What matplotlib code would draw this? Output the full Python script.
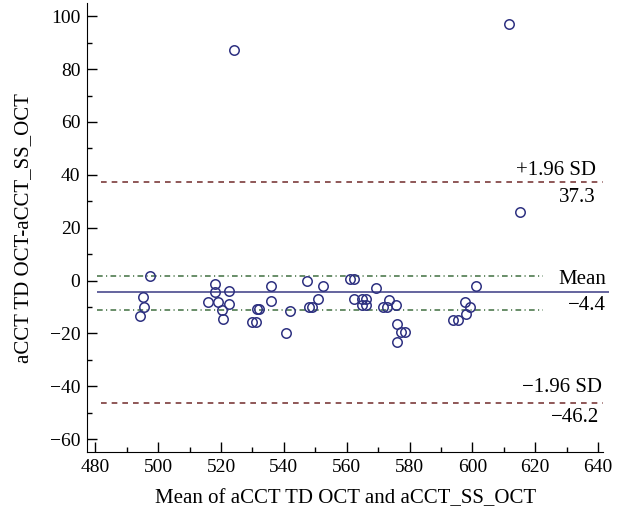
import matplotlib
matplotlib.use('Agg')
import matplotlib.pyplot as plt
from matplotlib.ticker import MultipleLocator

# Bland-Altman data
mean_vals = [497.4, 495.0, 495.4, 494.3, 515.9, 518.1, 518.1, 519.0, 522.6, 522.6,
             520.4, 520.7, 535.9, 535.9, 531.5, 532.1, 530.0, 531.1, 540.8, 547.2,
             552.3, 550.9, 548.1, 549.0, 541.9, 561.0, 562.3, 562.3, 565.0, 566.1,
             565.0, 566.1, 569.3, 571.6, 572.9, 573.5, 575.6, 576.0, 577.4, 578.7,
             576.0, 601.3, 597.8, 599.2, 598.1, 593.9, 595.5, 524.1, 611.7, 615.1]
diff_vals = [1.9, -6.1, -10.0, -13.3, -8.1, -1.3, -4.4, -8.1, -3.9, -8.9,
             -11.1, -14.4, -2.0, -7.8, -10.7, -10.7, -15.6, -15.6, -19.7, -0.1,
             -2.0, -6.9, -10.2, -10.2, -11.7, 0.7, 0.7, -6.9, -7.0, -7.0,
             -9.3, -9.3, -2.8, -10.2, -10.2, -7.5, -9.3, -16.5, -19.4, -19.4,
             -23.1, -2.0, -8.0, -10.0, -12.6, -14.8, -14.8, 87.4, 97.0, 25.9]

mean_diff = -4.4
upper_loa = 37.3
lower_loa = -46.2
ci_upper = 1.9
ci_lower = -11.0

plt.rcParams['font.family'] = ['Liberation Serif', 'DejaVu Serif']
plt.rcParams['font.size'] = 14

fig = plt.figure(figsize=(6.23, 5.21), dpi=100)
ax = fig.add_axes([0.1401, 0.1319, 0.8283, 0.8622])

navy = '#2e3181'
red = '#7b3b3b'
green = '#4f7a4f'

# reference lines
ax.hlines([ci_upper, ci_lower], 480.4, 622.4, colors=green, lw=1.2,
          linestyles=[(0, (3.4, 2.0, 0.7, 2.0))])
ax.hlines(mean_diff, 480.4, 643.5, colors='#4a4a8e', lw=1.2, clip_on=False)
ax.hlines([upper_loa, lower_loa], 481.8, 641.7, colors=red, lw=1.2,
          linestyles=[(0, (3.4, 3.0))])

ax.plot(mean_vals, diff_vals, 'o', mfc='none', mec=navy, ms=6.8, mew=1.1)

def label(txt, x, y, off):
    ax.annotate(txt, xy=(x, y), xytext=(0, off), textcoords='offset points',
                ha='right', va='baseline', annotation_clip=False, fontsize=15)

label('+1.96 SD', 639.3, upper_loa, 5.3)
label('37.3', 639.3, upper_loa, -14.4)
label('Mean', 642.5, mean_diff, 6.0)
label('\u22124.4', 642.4, mean_diff, -12.7)
label('\u22121.96 SD', 641.2, lower_loa, 7.9)
label('\u221246.2', 640.5, lower_loa, -13.7)

ax.set_xlim(477.4, 641.7)
ax.set_ylim(-65, 105)
ax.set_xticks(range(480, 641, 20))
ax.xaxis.set_minor_locator(MultipleLocator(10))
ax.set_yticks(range(-60, 101, 20))
ax.yaxis.set_minor_locator(MultipleLocator(10))

ax.spines['top'].set_visible(False)
ax.spines['right'].set_visible(False)
ax.tick_params(which='major', direction='in', length=7.2, width=1)
ax.tick_params(which='minor', direction='in', length=3.6, width=1)
ax.tick_params(axis='x', pad=5)
ax.tick_params(axis='y', pad=5)

ax.set_xlabel('Mean of aCCT TD OCT and aCCT_SS_OCT', fontsize=15, labelpad=9)
ax.set_ylabel('aCCT TD OCT-aCCT_SS_OCT', fontsize=15, labelpad=12)

fig.savefig('out.png', dpi=100)
